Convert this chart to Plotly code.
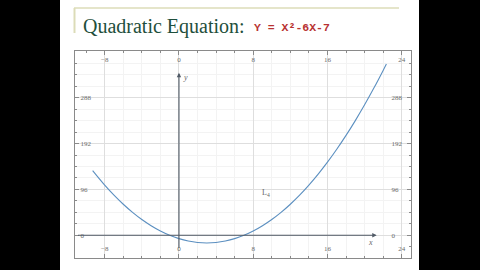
import plotly.graph_objects as go

# Curve samples of y = x^2 - 6x - 7
x_vals = [-9.3, -8, -7, -6, -5, -4, -3, -2, -1, 0, 1, 2, 3, 4, 5, 6, 7, 8, 9, 10,
          11, 12, 13, 14, 15, 16, 17, 18, 19, 20, 21, 22, 22.35]
y_vals = [135.3, 105, 84, 65, 48, 33, 20, 9, 0, -7, -12, -15, -16, -15, -12, -7, 0, 9, 20, 33,
          48, 65, 84, 105, 128, 153, 180, 209, 240, 273, 308, 345, 358.4]

x_ticks = [-8, 0, 8, 16, 24]
y_ticks = [0, 96, 192, 288]
x_range = [-11.2, 25.0]
y_range = [-47.5, 385.6]

W, H = 480, 270
L, R, T, B = 75, 69, 51, 12
pw, ph = W - L - R, H - T - B

def px(x):
    return (x - L) / pw

def py(y):
    return (H - B - y) / ph

fig = go.Figure()
fig.add_trace(go.Scatter(x=x_vals, y=y_vals, mode="lines",
                         line=dict(color="#5b8fc0", width=1.1, shape="spline"),
                         hoverinfo="skip", showlegend=False))
fig.add_trace(go.Scatter(x=[None], y=[None], xaxis="x2", yaxis="y2",
                         showlegend=False, hoverinfo="skip"))

tickfont = dict(family="Liberation Serif", size=7, color="#6a6a6a")
common = dict(showgrid=True, gridcolor="#dedede", gridwidth=1, zeroline=False,
              showline=True, linecolor="#8a8a8a", linewidth=1,
              ticks="inside", ticklen=4, tickcolor="#8a8a8a",
              ticklabelposition="inside", tickfont=tickfont)

x2_opts = {**common, "showgrid": False, "ticklabelposition": "outside", "ticklabelstandoff": -15}
y2_opts = {**common, "showgrid": False, "ticklabelposition": "outside", "ticklabelstandoff": -22}

fig.update_layout(
    width=W, height=H, margin=dict(l=L, r=R, t=T, b=B),
    paper_bgcolor="black", plot_bgcolor="white",
    xaxis=dict(range=x_range, tickvals=x_ticks, side="bottom",
               minor=dict(dtick=2, ticks="inside", ticklen=2, tickcolor="#8a8a8a",
                          showgrid=True, gridcolor="#f3f3f3"), **common),
    yaxis=dict(range=y_range, tickvals=y_ticks, side="left",
               minor=dict(dtick=24, ticks="inside", ticklen=2, tickcolor="#8a8a8a",
                          showgrid=True, gridcolor="#f3f3f3"), **common),
    xaxis2=dict(range=x_range, tickvals=x_ticks, side="top", overlaying="x", anchor="y2",
                minor=dict(dtick=2, ticks="inside", ticklen=2, tickcolor="#8a8a8a"),
                **x2_opts),
    yaxis2=dict(range=y_range, tickvals=y_ticks, side="right", overlaying="y", anchor="x2",
                minor=dict(dtick=24, ticks="inside", ticklen=2, tickcolor="#8a8a8a"),
                **y2_opts),
)

# slide background and decorations
fig.add_shape(type="rect", xref="paper", yref="paper", x0=px(60), x1=px(419), y0=py(270), y1=py(0),
              fillcolor="white", line_width=0, layer="below")
fig.add_shape(type="line", xref="paper", yref="paper", x0=px(74), x1=px(399), y0=py(8), y1=py(8),
              line=dict(color="#dcdcb8", width=1.5))
fig.add_shape(type="line", xref="paper", yref="paper", x0=px(74.5), x1=px(74.5), y0=py(8), y1=py(33),
              line=dict(color="#dcdcb8", width=2))

fig.add_annotation(xref="paper", yref="paper", x=px(81), y=py(27), xanchor="left", yanchor="middle",
                   text="Quadratic Equation:", showarrow=False,
                   font=dict(family="Liberation Serif", size=20, color="#1f4f3c"))
fig.add_annotation(xref="paper", yref="paper", x=px(252), y=py(28), xanchor="left", yanchor="middle",
                   text="<b>Y = X²-6X-7</b>", showarrow=False,
                   font=dict(family="Liberation Mono", size=11.5, color="#b83232"))

# coordinate axes with arrows
fig.add_annotation(x=21.3, y=0, ax=x_range[0], ay=0, xref="x", yref="y", axref="x", ayref="y",
                   showarrow=True, arrowhead=2, arrowsize=0.8, arrowwidth=1.1, arrowcolor="#505a66", text=" ")
fig.add_annotation(x=0, y=340, ax=0, ay=y_range[0], xref="x", yref="y", axref="x", ayref="y",
                   showarrow=True, arrowhead=2, arrowsize=0.8, arrowwidth=1.1, arrowcolor="#505a66", text=" ")
fig.add_annotation(x=20.6, y=-16, xref="x", yref="y", text="<i>x</i>", showarrow=False,
                   font=dict(family="Liberation Serif", size=8, color="#666666"))
fig.add_annotation(x=0.7, y=330, xref="x", yref="y", text="<i>y</i>", showarrow=False,
                   font=dict(family="Liberation Serif", size=8, color="#666666"))
fig.add_annotation(x=9.4, y=88, xref="x", yref="y", text="L<sub>4</sub>", showarrow=False,
                   font=dict(family="Liberation Serif", size=8, color="#666666"))

fig.write_html("out.html")
